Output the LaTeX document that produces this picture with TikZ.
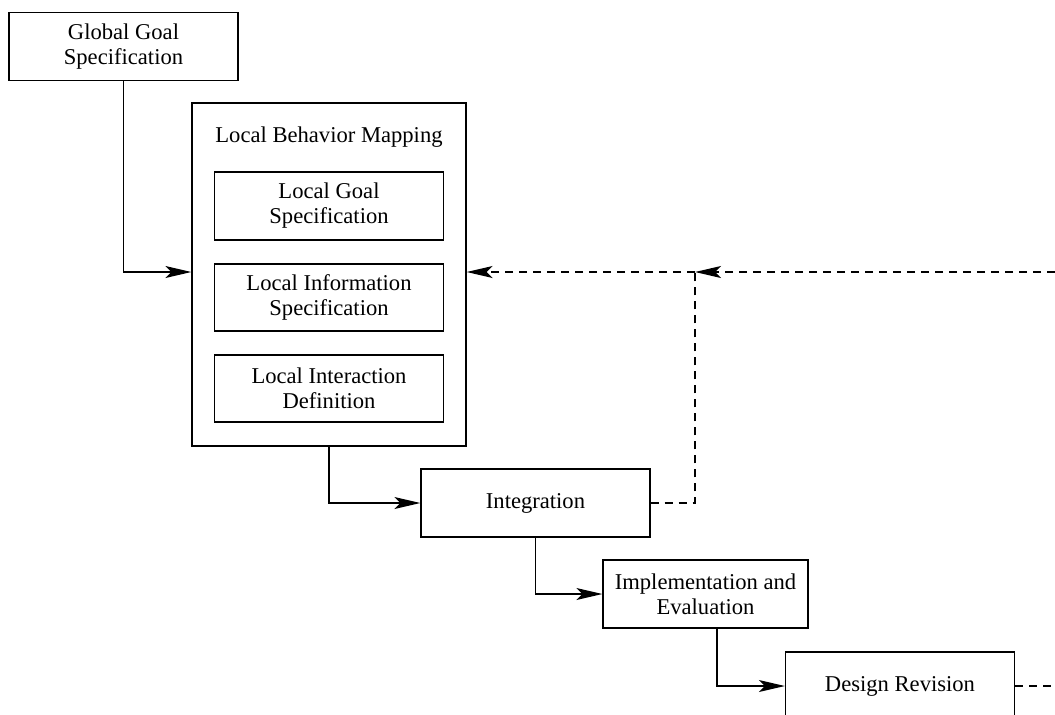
\documentclass[tikz,border=0pt]{standalone}
\usepackage{fontspec}
\setmainfont{Liberation Serif}
\usetikzlibrary{arrows.meta}
\begin{document}
\begin{tikzpicture}[x=0.5pt,y=-0.5pt,
  every node/.style={font=\fontsize{11.3}{12.5}\selectfont, align=center, inner sep=0pt},
  box/.style={draw, line width=0.65pt, rectangle, minimum width=114.5pt, minimum height=34pt},
  flow/.style={line width=0.65pt, -{Stealth[length=13pt, width=6pt, inset=3pt]}},
  fback/.style={line width=0.65pt, dash pattern=on 4pt off 3pt},
  fbarrow/.style={fback, -{Stealth[length=13pt, width=6pt, inset=3pt]}}]
\useasboundingbox (0,0) rectangle (1055,714);

% main process boxes
\node[box] (gg) at (123.5,46.5) {Global Goal\\Specification};
\node[box, minimum width=137pt, minimum height=171.5pt] (lbm) at (329,274.5) {};
\node (lbmtitle) at (329,137) {Local Behavior Mapping};
\node[box] (lg) at (329,206) {Local Goal\\Specification};
\node[box, minimum height=33.5pt] (li) at (329,297.5) {Local Information\\Specification};
\node[box, minimum height=33.5pt] (lid) at (329,388.5) {Local Interaction\\Definition};
\node[box] (integ) at (535.5,503) {Integration};
\node[box, minimum width=102.5pt] (impl) at (705.5,594) {Implementation and\\Evaluation};
\node[box] (dr) at (900,686) {Design Revision};

% feedback junction and free ends
\coordinate (fb) at (695,272);
\coordinate (rend) at (1055,272);
\coordinate (dend) at (1055,686);

% forward flow
\draw[flow] (gg.south) |- (lbm.west |- fb);
\draw[flow] (lbm.south) |- (integ.west);
\draw[flow] (integ.south) |- (impl.west);
\draw[flow] ([xshift=5.75pt]impl.south) |- (dr.west);

% feedback paths
\draw[fback] (integ.east) -| (fb);
\draw[fbarrow] (fb) -- (lbm.east |- fb);
\draw[fbarrow] (rend) -- (fb);
\draw[fback] (dr.east) -- (dend);
\end{tikzpicture}
\end{document}
